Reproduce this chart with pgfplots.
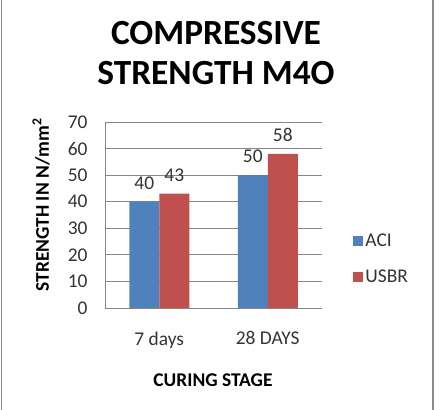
\documentclass[border=0pt]{standalone}
\usepackage{fontspec}
\setmainfont{Carlito}
\usepackage{pgfplots}
\pgfplotsset{compat=1.18}

\definecolor{aciblue}{HTML}{4F81BD}
\definecolor{usbrred}{HTML}{C0504D}
\definecolor{gridgray}{HTML}{868686}
\definecolor{framegray}{HTML}{8C8C8C}

\begin{document}
\begin{tikzpicture}
\useasboundingbox (0bp,0bp) rectangle (443bp,410bp);
% chart frame
\draw[framegray, line width=1.6bp] (1.6bp,0bp) -- (1.6bp,410bp);
\draw[framegray, line width=1.6bp] (433bp,0bp) -- (433bp,410bp);

% title
\node[font=\fontsize{35.5}{38}\selectfont\bfseries] at (216bp,377bp) {COMPRESSIVE};
\node[font=\fontsize{35.5}{38}\selectfont\bfseries] at (216bp,337bp) {STRENGTH M4O};

\begin{axis}[
  at={(105bp,102bp)}, anchor=south west,
  scale only axis, width=217bp, height=186bp,
  ymin=0, ymax=70, ytick={0,10,...,70},
  xmin=-0.5, xmax=1.5, xtick={0,1},
  xticklabels={7 days, 28 DAYS},
  ybar=0pt, bar width=30bp,
  axis x line*=bottom, axis y line*=left,
  axis line style={gridgray, line width=0.8bp},
  x axis line style={-}, y axis line style={-},
  ymajorgrids, grid style={gridgray, line width=0.8bp},
  major tick length=0pt,
  tick label style={font=\fontsize{19.5}{21}\selectfont, text=black!80},
  /pgf/number format/assume math mode=true,
  yticklabel style={xshift=-14bp},
  xticklabel style={yshift=-20bp},
  nodes near coords,
  every node near coord/.append style={font=\fontsize{19.5}{21}\selectfont, text=black!80, yshift=9bp},
  legend style={draw=none, fill=none, at={(1.13,0.263)}, anchor=west,
    font=\fontsize{19.5}{21}\selectfont, row sep=18bp, text=black!80,
    /tikz/every even column/.append style={column sep=0pt}},
  legend cell align=left,
  legend image code/.code={\fill[#1] (0bp,-5bp) rectangle (10bp,5bp);},
]
\addplot[fill=aciblue, draw=none] coordinates {(0,40) (1,50)};
\addplot[fill=usbrred, draw=none] coordinates {(0,43) (1,58)};
\legend{ACI, USBR}
\end{axis}

% axis titles
\node[font=\fontsize{19.5}{21}\selectfont\bfseries] at (213bp,30bp) {CURING STAGE};
\node[font=\fontsize{19.5}{21}\selectfont\bfseries, rotate=90] at (41bp,205bp) {STRENGTH IN N/mm\textsuperscript{2}};
\end{tikzpicture}
\end{document}
